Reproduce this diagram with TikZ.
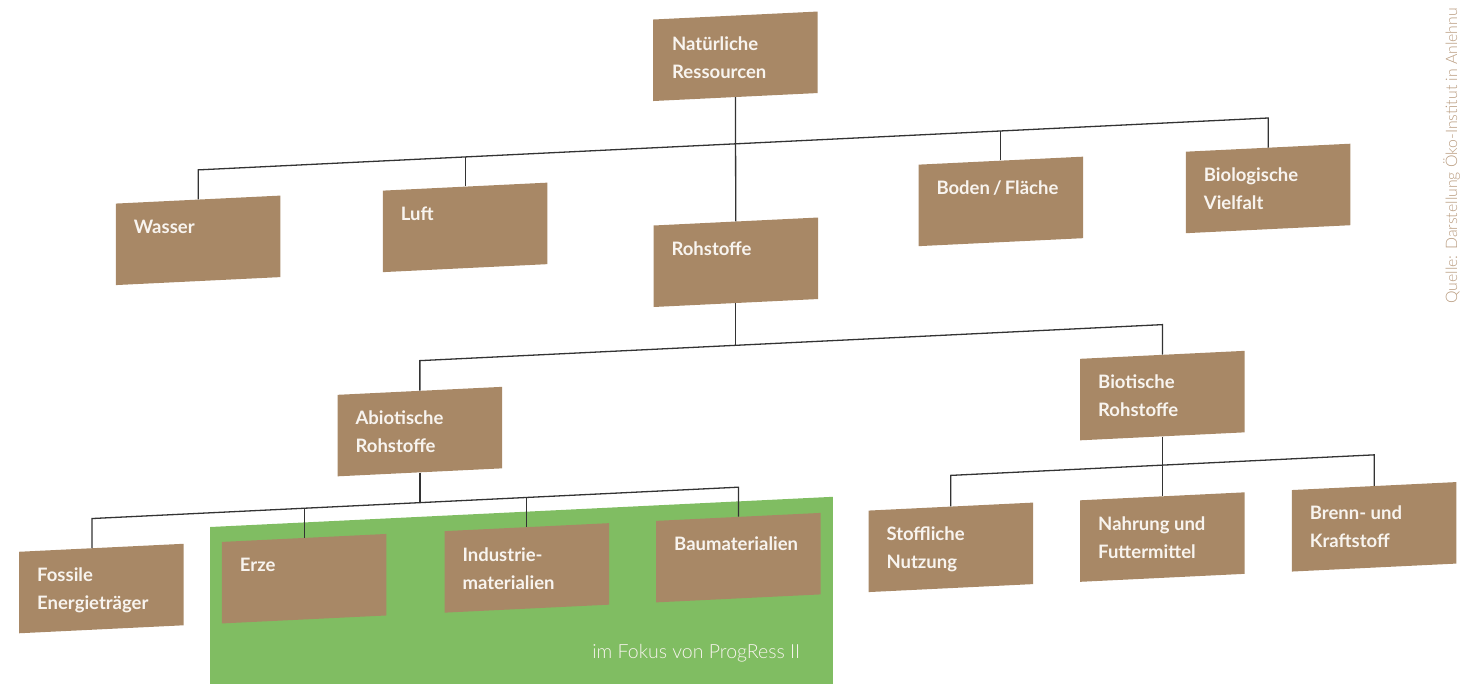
\documentclass[tikz,border=0pt]{standalone}
\usepackage{fontspec}
\setmainfont{Lato}
\newfontfamily\lightfont{Lato Light}
\usepackage{xcolor}
\usetikzlibrary{calc}
\definecolor{earth}{HTML}{A88866}
\definecolor{leaf}{HTML}{80BD62}
\definecolor{wire}{HTML}{333333}
\definecolor{paper}{HTML}{F8F4EF}
\definecolor{sand}{HTML}{B99C80}

\begin{document}
\begin{tikzpicture}[x=1pt,y=-1pt,
  resbox/.style={fill=earth,minimum width=164.5pt,minimum height=81.5pt,inner sep=0pt,anchor=north west,transform shape},
  restext/.style={text=paper,font=\fontsize{18.5}{28}\selectfont\bfseries,align=left,anchor=base west,inner sep=0pt},
  link/.style={wire,line width=1.3pt}]
\clip (0,0) rectangle (1462,684);
\begin{scope}[yslant=0.0485]
\node[fill=leaf,minimum width=622.7pt,minimum height=195pt,inner sep=0pt,anchor=north west,transform shape] (fokus) at (210,537) {};
\node[resbox] (nat) at (653,51) {};
\node[resbox] (wasser) at (115.7,209) {};
\node[resbox] (luft) at (382.7,209) {};
\node[resbox] (roh) at (653.3,257) {};
\node[resbox] (boden) at (918.3,209) {};
\node[resbox] (vielfalt) at (1185.7,209) {};
\node[resbox] (abio) at (337.4,411) {};
\node[resbox] (bio) at (1080,411) {};
\node[resbox] (fossil) at (19,552.5) {};
\node[resbox] (erze) at (221.7,552.5) {};
\node[resbox] (indus) at (444.3,552.5) {};
\node[resbox] (bau) at (656,552.5) {};
\node[resbox] (stoff) at (868.3,552.5) {};
\node[resbox] (nahrung) at (1080,552.5) {};
\node[resbox] (brenn) at (1291.7,552.5) {};
\node[restext] (nat-t) at ($(nat.north west)+(19,60)$) {Natürliche\\Ressourcen};
\node[restext] (wasser-t) at ($(wasser.north west)+(18,31)$) {Wasser};
\node[restext] (luft-t) at ($(luft.north west)+(18,31)$) {Luft};
\node[restext] (roh-t) at ($(roh.north west)+(18,31)$) {Rohstoffe};
\node[restext] (boden-t) at ($(boden.north west)+(18,31)$) {Boden\,/\,Fläche};
\node[restext] (vielfalt-t) at ($(vielfalt.north west)+(18,59)$) {Biologische\\Vielfalt};
\node[restext] (abio-t) at ($(abio.north west)+(18,59)$) {Abiotische\\Rohstoffe};
\node[restext] (bio-t) at ($(bio.north west)+(18,59)$) {Biotische\\Rohstoffe};
\node[restext] (fossil-t) at ($(fossil.north west)+(18,59)$) {Fossile\\Energieträger};
\node[restext] (erze-t) at ($(erze.north west)+(18,31)$) {Erze};
\node[restext] (indus-t) at ($(indus.north west)+(18,59)$) {Industrie-\\materialien};
\node[restext] (bau-t) at ($(bau.north west)+(18,31)$) {Baumaterialien};
\node[restext] (stoff-t) at ($(stoff.north west)+(18,59)$) {Stoffliche\\Nutzung};
\node[restext] (nahrung-t) at ($(nahrung.north west)+(18,59)$) {Nahrung und\\Futtermittel};
\node[restext] (brenn-t) at ($(brenn.north west)+(18,59)$) {Brenn- und\\Kraftstoff};
\node[text=paper,font=\lightfont\fontsize{19.5}{22}\selectfont,anchor=base east,inner sep=0pt] (fokus-t) at ($(fokus.north east)+(-32.7,160)$) {im Fokus von ProgRess II};
\draw[link] (nat.south) -- (roh.north);
\draw[link] (wasser.north) -- ++(0,-29.5) -- ($(vielfalt.north)+(0,-29.5)$) -- (vielfalt.north);
\draw[link] (luft.north) -- ++(0,-29.5);
\draw[link] (boden.north) -- ++(0,-29.5);
\draw[link] (roh.south) -- ++(0,42.5);
\draw[link] (abio.north) -- ++(0,-30) -- ($(bio.north)+(0,-30)$) -- (bio.north);
\draw[link] (abio.south) -- ++(0,30.5);
\draw[link] ($(fossil.north west)+(73,0)$) -- ++(0,-29.5) -- ($(bau.north)+(0,-29.5)$) -- (bau.north);
\draw[link] (erze.north) -- ++(0,-29.5);
\draw[link] (indus.north) -- ++(0,-29.5);
\draw[link] (bio.south) -- (nahrung.north);
\draw[link] (stoff.north) -- ++(0,-31) -- ($(brenn.north)+(0,-31)$) -- (brenn.north);
\end{scope}
\node[text=sand,font=\lightfont\fontsize{15.8}{20}\selectfont,rotate=90,anchor=base west,inner sep=0pt] (quelle) at (1457,304) {Quelle: Darstellung Öko-Institut in Anlehnu};
\end{tikzpicture}
\end{document}
